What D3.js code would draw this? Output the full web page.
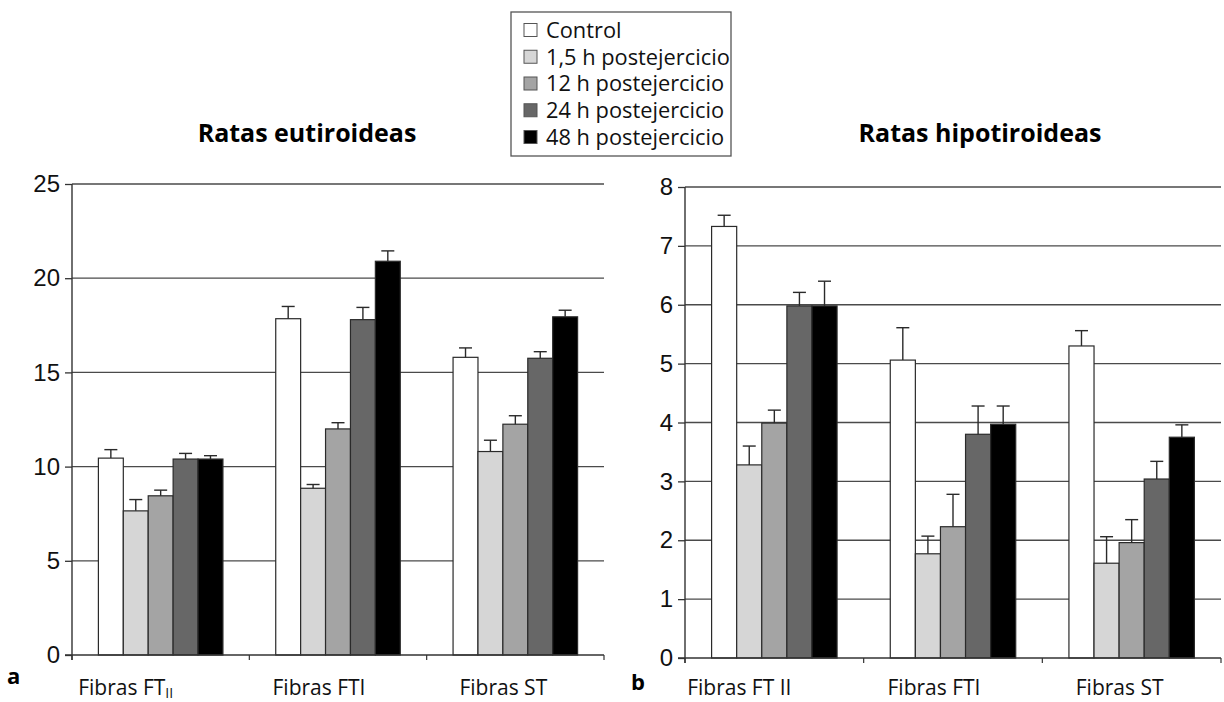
<!DOCTYPE html>
<html>
<head>
<meta charset="utf-8">
<script src="https://cdn.jsdelivr.net/npm/d3@7/dist/d3.min.js"></script>
<style>
  html, body { margin: 0; padding: 0; background: #fff; }
  svg { display: block; }
</style>
</head>
<body>
<svg id="chart" width="1224" height="702"></svg>
<script>
// ---------------- DATA ----------------
const series = ["Control", "1,5 h postejercicio", "12 h postejercicio", "24 h postejercicio", "48 h postejercicio"];
const seriesColors = ["#ffffff", "#d6d6d6", "#a4a4a4", "#676767", "#000000"];

const categoriesA = ["FTII", "FTI", "ST"];
const categoriesB = ["FT II", "FTI", "ST"];

// Ratas eutiroideas: values per category (rows) per series (columns)
const eutiroideasValues = [
  [10.45, 7.65, 8.45, 10.4, 10.4],
  [17.85, 8.85, 12.0, 17.8, 20.9],
  [15.8, 10.8, 12.25, 15.75, 17.95]
];
const eutiroideasErrors = [
  [0.45, 0.6, 0.3, 0.3, 0.18],
  [0.65, 0.2, 0.33, 0.65, 0.55],
  [0.5, 0.6, 0.45, 0.35, 0.35]
];
const eutiroideasTicks = [0, 5, 10, 15, 20, 25];

// Ratas hipotiroideas
const hipotiroideasValues = [
  [7.33, 3.28, 3.99, 5.98, 5.98],
  [5.06, 1.77, 2.23, 3.8, 3.97],
  [5.3, 1.61, 1.96, 3.04, 3.75]
];
const hipotiroideasErrors = [
  [0.19, 0.32, 0.22, 0.23, 0.42],
  [0.55, 0.3, 0.55, 0.48, 0.31],
  [0.26, 0.45, 0.39, 0.3, 0.21]
];
const hipotiroideasTicks = [0, 1, 2, 3, 4, 5, 6, 7, 8];

// ---------------- DRAW ----------------
const svg = d3.select("#chart");
const labelShift = [-35, -19, -12];

function drawPanel(cfg) {
  const g = svg.append("g");
  const x = d3.scaleBand().domain(cfg.categories).range([cfg.x0, cfg.x1]).padding(0);
  const xs = d3.scaleBand().domain(series).range([0, x.bandwidth()]).paddingInner(0).paddingOuter(1.06);
  const y = d3.scaleLinear().domain([0, cfg.max]).range([cfg.y0, cfg.y1]);

  // gridlines
  g.append("g").selectAll("line").data(cfg.ticks.filter(t => t > 0)).join("line")
    .attr("x1", cfg.x0).attr("x2", cfg.x1)
    .attr("y1", d => y(d)).attr("y2", d => y(d))
    .attr("stroke", "#4a4a4a").attr("stroke-width", 1.3);

  // y axis with ticks
  const yAxis = d3.axisLeft(y).tickValues(cfg.ticks).tickSize(7).tickPadding(5).tickFormat(d3.format("d"));
  const ya = g.append("g").attr("transform", `translate(${cfg.x0},0)`).call(yAxis);
  ya.select(".domain").remove();
  ya.selectAll(".tick line").attr("stroke", "#333").attr("stroke-width", 1.3);
  ya.selectAll(".tick text")
    .attr("font-family", "'Liberation Sans', Arial, sans-serif")
    .attr("font-size", 24).attr("fill", "#111");
  g.append("line").attr("x1", cfg.x0).attr("x2", cfg.x0)
    .attr("y1", y(cfg.max)).attr("y2", y(0) + 5)
    .attr("stroke", "#333").attr("stroke-width", 1.4);

  // bars
  const groups = g.append("g").selectAll("g").data(cfg.categories).join("g")
    .attr("transform", d => `translate(${x(d)},0)`);
  groups.each(function (cat, ci) {
    const gg = d3.select(this);
    const rows = series.map((s, si) => ({ s, si, v: cfg.values[ci][si], e: cfg.errors[ci][si] }));
    gg.selectAll("rect").data(rows).join("rect")
      .attr("x", d => xs(d.s)).attr("width", xs.bandwidth())
      .attr("y", d => y(d.v)).attr("height", d => y(0) - y(d.v))
      .attr("fill", d => seriesColors[d.si])
      .attr("stroke", "#2a2a2a").attr("stroke-width", 1.2);
    // error bars (upper)
    gg.selectAll("line.err").data(rows).join("line").attr("class", "err")
      .attr("x1", d => xs(d.s) + xs.bandwidth() / 2).attr("x2", d => xs(d.s) + xs.bandwidth() / 2)
      .attr("y1", d => y(d.v)).attr("y2", d => y(d.v + d.e))
      .attr("stroke", "#2a2a2a").attr("stroke-width", 1.4);
    gg.selectAll("line.cap").data(rows).join("line").attr("class", "cap")
      .attr("x1", d => xs(d.s) + xs.bandwidth() / 2 - 6.5).attr("x2", d => xs(d.s) + xs.bandwidth() / 2 + 6.5)
      .attr("y1", d => y(d.v + d.e)).attr("y2", d => y(d.v + d.e))
      .attr("stroke", "#2a2a2a").attr("stroke-width", 1.4);
  });

  // x axis line
  g.append("line").attr("x1", cfg.x0 - 7).attr("x2", cfg.x1)
    .attr("y1", y(0)).attr("y2", y(0))
    .attr("stroke", "#333").attr("stroke-width", 1.4);
  // category boundary ticks
  const edges = cfg.categories.map(c => x(c) + x.bandwidth()).concat([cfg.x0]);
  g.append("g").selectAll("line").data(edges).join("line")
    .attr("x1", d => d).attr("x2", d => d)
    .attr("y1", y(0)).attr("y2", y(0) + 5)
    .attr("stroke", "#333").attr("stroke-width", 1.2);

  // category labels
  const lab = g.append("g").selectAll("text").data(cfg.categories).join("text")
    .attr("x", (d, i) => x(d) + x.bandwidth() / 2 + labelShift[i])
    .attr("y", 695)
    .attr("text-anchor", "middle")
    .attr("font-family", "'Open Sans', sans-serif")
    .attr("font-size", 21).attr("fill", "#111");
  lab.each(function (d) {
    const t = d3.select(this);
    if (d === "FTII") {
      t.append("tspan").text("Fibras FT");
      t.append("tspan").attr("font-size", 14).attr("dy", 3).text("II");
    } else {
      t.text("Fibras " + d);
    }
  });

  // title
  g.append("text").attr("x", cfg.titleX).attr("y", 142)
    .attr("text-anchor", "middle")
    .attr("font-family", "'Open Sans', sans-serif")
    .attr("font-weight", "bold").attr("font-size", 25).attr("fill", "#000")
    .text(cfg.title);

  // panel letter
  g.append("text").attr("x", cfg.letterX).attr("y", cfg.letterY)
    .attr("font-family", "'Open Sans', sans-serif")
    .attr("font-weight", "bold").attr("font-size", 22).attr("fill", "#000")
    .text(cfg.letter);
}

drawPanel({
  categories: categoriesA, values: eutiroideasValues, errors: eutiroideasErrors,
  ticks: eutiroideasTicks, max: 25,
  x0: 72, x1: 604, y0: 655, y1: 184,
  title: "Ratas eutiroideas", titleX: 307, letter: "a", letterX: 7, letterY: 684
});
drawPanel({
  categories: categoriesB, values: hipotiroideasValues, errors: hipotiroideasErrors,
  ticks: hipotiroideasTicks, max: 8,
  x0: 685, x1: 1221, y0: 658, y1: 187,
  title: "Ratas hipotiroideas", titleX: 980, letter: "b", letterX: 631, letterY: 690
});

// legend
const legend = svg.append("g");
legend.append("rect").attr("x", 511).attr("y", 12).attr("width", 220).attr("height", 144)
  .attr("fill", "#fff").attr("stroke", "#555").attr("stroke-width", 1.3);
const ly = d3.scalePoint().domain(series).range([30, 137]);
const items = legend.selectAll("g.item").data(series).join("g").attr("class", "item")
  .attr("transform", d => `translate(0,${ly(d)})`);
items.append("rect").attr("x", 524).attr("y", -6.5).attr("width", 13).attr("height", 13)
  .attr("fill", (d, i) => seriesColors[i]).attr("stroke", "#555").attr("stroke-width", 1);
items.append("text").attr("x", 546).attr("y", 0).attr("dy", "0.36em")
  .attr("font-family", "'Open Sans', sans-serif").attr("font-size", 21.8).attr("fill", "#111")
  .text(d => d);
</script>
</body>
</html>
